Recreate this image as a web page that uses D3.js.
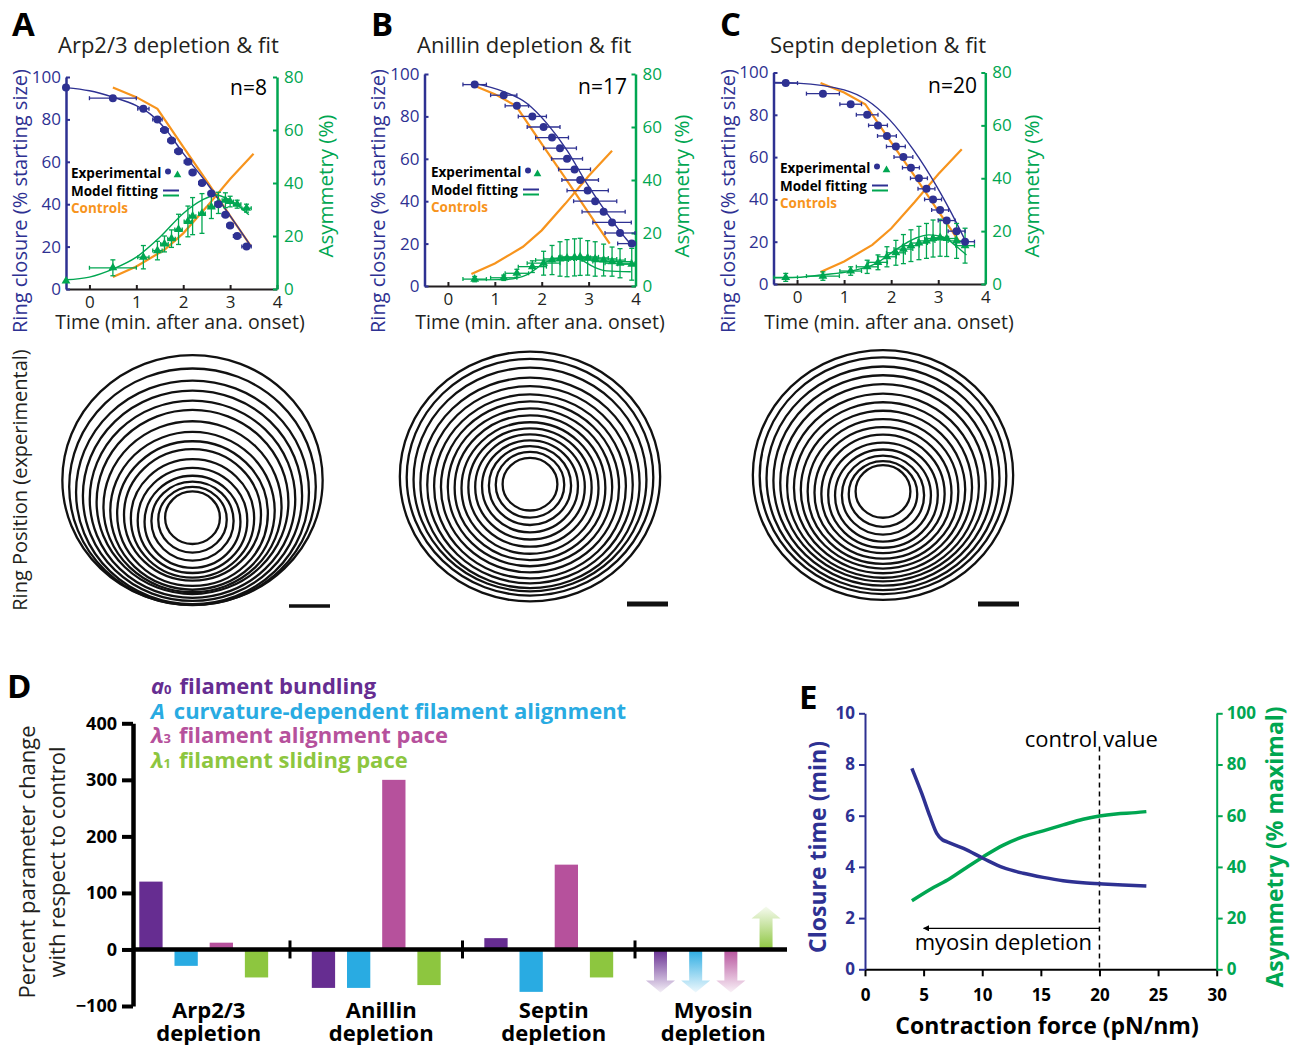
<!DOCTYPE html>
<html>
<head>
<meta charset="utf-8">
<script src="https://cdn.jsdelivr.net/npm/d3@7"></script>
<style>
  body { margin: 0; background: #fff; }
  svg { font-family: "Open Sans", "Noto Sans", sans-serif; }
</style>
</head>
<body>
<svg id="fig" width="1297" height="1045"></svg>
<script>
const FONT = "'Open Sans', 'Noto Sans', sans-serif";
const BLUE = "#2e3192";
const GREEN = "#00a651";
const ORANGE = "#f7941d";
const INK = "#231f20";

// ---- panels A-C : ring closure + asymmetry vs time ----
const timeTicks = [0, 1, 2, 3, 4];
const closureTicks = [0, 20, 40, 60, 80, 100];
const asymTicks = [0, 20, 40, 60, 80];

// controls (same in A, B, C)
const controlTime = [0.5, 1, 1.45, 2, 2.5, 3, 3.45];
const controlClosure = [95, 90.5, 85, 67, 51, 34.5, 20];
const controlAsymTime = [0.5, 1, 1.6, 2, 2.5, 3, 3.5];
const controlAsym = [4.5, 8.5, 14.8, 21, 31, 41.5, 51];

// A: Arp2/3 depletion
const arpTime = [-0.5, 0.5, 1.15, 1.45, 1.6, 1.75, 1.9, 2.1, 2.2, 2.4, 2.6, 2.75, 2.9, 3.0, 3.15, 3.35];
const arpTimeErr = [0, 0.5, 0.12, 0.1, 0.08, 0.08, 0.08, 0.08, 0.07, 0.07, 0.07, 0.07, 0.07, 0.07, 0.08, 0.1];
const arpClosure = [95, 90, 85, 80, 75, 70, 65, 60, 55, 50, 45, 40, 35, 30, 25, 20];
const arpAsym = [3, 8, 12, 14.5, 17, 19, 22.5, 25.5, 27.5, 28.5, 31, 32.5, 33.5, 33, 32, 30.5];
const arpAsymErr = [0, 3, 4.4, 3.5, 3, 3.3, 5.7, 5.8, 7, 7.5, 4.4, 4, 2.8, 2, 1.5, 1.5];
const arpFitClosure = [[-0.5, 95], [0, 93.5], [0.5, 90.5], [1, 86.5], [1.3, 82.5], [1.6, 76], [2, 64], [2.5, 50], [3, 34.5], [3.45, 20]];
const arpFitAsym = [[-0.5, 3.5], [0, 4.5], [0.5, 7.5], [1, 12], [1.5, 19.5], [2, 28.5], [2.4, 33.5], [2.7, 35.5], [3, 33.5], [3.4, 28]];

// B: Anillin depletion
const anlTime = [0.57, 1.19, 1.47, 1.8, 2.04, 2.22, 2.39, 2.54, 2.7, 2.82, 2.98, 3.14, 3.32, 3.5, 3.67, 3.92];
const anlTimeErr = [0.25, 0.28, 0.25, 0.3, 0.35, 0.35, 0.35, 0.33, 0.34, 0.39, 0.44, 0.46, 0.46, 0.41, 0.32, 0.3];
const anlClosure = [95, 90, 85, 80, 75, 70, 65, 60, 55, 50, 45, 40, 35, 30, 25, 20];
const anlAsym = [2.6, 3.1, 4.8, 7.3, 8.6, 9.8, 10.2, 10.5, 10.8, 11, 10.6, 10.2, 9.8, 9.2, 8.6, 8.2];
const anlAsymErr = [1, 1, 1.5, 2.2, 4.5, 5.5, 6.5, 7, 7, 7, 6.5, 6.5, 6, 5.5, 5.5, 6];
const anlFitClosure = [[0.57, 95.6], [1.19, 91.7], [1.68, 86.2], [2.11, 76.7], [2.54, 64], [2.96, 48.4], [3.39, 34.3], [3.82, 21.7], [3.95, 18.5]];
const anlFitAsym = [[0.55, 2.3], [1.25, 2.5], [1.68, 4.2], [2.11, 9.2], [2.54, 10.8], [2.82, 10], [3.1, 7.3], [3.39, 5.7], [3.9, 5.4]];

// C: Septin depletion
const sepTime = [-0.24, 0.55, 1.14, 1.49, 1.72, 1.91, 2.1, 2.26, 2.42, 2.59, 2.75, 2.89, 3.04, 3.18, 3.39, 3.57];
const sepTimeErr = [0.25, 0.35, 0.23, 0.23, 0.2, 0.2, 0.2, 0.2, 0.18, 0.18, 0.18, 0.18, 0.18, 0.18, 0.18, 0.2];
const sepClosure = [95, 90, 85, 80, 75, 70, 65, 60, 55, 50, 45, 40, 35, 30, 25, 20];
const sepAsym = [2.5, 3, 4.9, 6.5, 8.2, 10.3, 11.8, 13.2, 14.5, 15.5, 16.3, 17.2, 17.5, 17.2, 16.3, 14.5];
const sepAsymErr = [1.5, 1.6, 1.6, 2.5, 2.8, 3.8, 4.7, 5.5, 6, 6.3, 6.6, 7, 7, 6.8, 6.6, 6.6];
const sepFitClosure = [[-0.5, 95.3], [0, 95], [1, 91.8], [1.48, 87], [1.97, 77.6], [2.47, 63.5], [2.97, 46], [3.39, 28.8], [3.6, 19.4]];
const sepFitAsym = [[-0.5, 2.3], [0, 2.5], [0.55, 3.5], [1.12, 4.8], [1.69, 7.9], [2.1, 13], [2.53, 17.4], [2.8, 18.6], [3.1, 17.8], [3.39, 14.2], [3.6, 11]];

// ---- panel D : parameter change ----
const groupNames = ["Arp2/3", "Anillin", "Septin", "Myosin"];
const paramKeys = ["a0", "A", "l3", "l1"];
const paramSymbols = ["a", "A", "λ", "λ"];
const paramSubs = ["0", "", "3", "1"];
const paramLabels = ["filament bundling", "curvature-dependent filament alignment", "filament alignment pace", "filament sliding pace"];
const paramColors = ["#662d91", "#29abe2", "#b6519c", "#8dc63f"];
const bundlingChange = [120, -68, 20];
const curvatureChange = [-29, -68, -75];
const alignPaceChange = [12, 300, 150];
const slidingPaceChange = [-49.5, -63, -49.5];
const myosinArrow = [-76, -76, -76, 76]; // direction only
const changeTicks = [-100, 0, 100, 200, 300, 400];

// ---- panel E : contraction force ----
const forceValues = [4, 4.84, 5.55, 6.12, 6.6, 7, 8.4, 10.1, 11.8, 13.5, 15.2, 16.9, 18.6, 20.3, 22, 24];
const forceClosure = [7.85, 6.87, 5.96, 5.31, 5.06, 4.98, 4.72, 4.33, 3.97, 3.75, 3.59, 3.46, 3.38, 3.33, 3.29, 3.25];
const forceAsymX = [4, 5.55, 7.25, 8.67, 10.1, 11.8, 13.5, 15.2, 16.9, 18.6, 20, 21.4, 23.1, 24];
const forceAsym = [26.8, 31.2, 35.5, 39.8, 44, 48.5, 51.8, 54.1, 56.4, 58.6, 59.9, 60.7, 61.2, 61.6];
const forceTicks = [0, 5, 10, 15, 20, 25, 30];
const closureTimeTicks = [0, 2, 4, 6, 8, 10];
const asymMaxTicks = [0, 20, 40, 60, 80, 100];

const svg = d3.select("#fig");

function styleAxis(sel, color, width, size, weight) {
  sel.attr("font-family", FONT).attr("font-size", size);
  sel.select(".domain").attr("stroke", color).attr("stroke-width", width);
  sel.selectAll(".tick line").attr("stroke", color).attr("stroke-width", Math.min(width, 2));
  sel.selectAll(".tick text").attr("fill", color).attr("font-weight", weight || "normal");
}

function rotLabel(g, cx, cy, str, size, color, weight) {
  g.append("text")
    .attr("transform", `translate(${cx},${cy}) rotate(-90)`)
    .attr("text-anchor", "middle")
    .attr("dy", "0.35em")
    .attr("font-size", size)
    .attr("font-weight", weight || "normal")
    .attr("fill", color)
    .text(str);
}

const timePanels = [
  {
    letter: "A", letterX: 12, title: "Arp2/3 depletion & fit", titleX: 58, n: "n=8", nX: 267, nY: 95,
    xr: [66, 277], yr: [289, 77], labelL: 20, labelR: 326, xLabel: 180, legend: [71, 178],
    time: arpTime, timeErr: arpTimeErr, closure: arpClosure, asym: arpAsym, asymErr: arpAsymErr,
    fitClosure: arpFitClosure, fitAsym: arpFitAsym,
    ring: { cx: 192.5, cy: 480, bar: [289, 330, 606], barW: 3.5 },
  },
  {
    letter: "B", letterX: 371, title: "Anillin depletion & fit", titleX: 417, n: "n=17", nX: 627, nY: 94,
    xr: [424.5, 635.5], yr: [286, 74], labelL: 378, labelR: 682, xLabel: 540, legend: [431, 177],
    time: anlTime, timeErr: anlTimeErr, closure: anlClosure, asym: anlAsym, asymErr: anlAsymErr,
    fitClosure: anlFitClosure, fitAsym: anlFitAsym,
    ring: { cx: 530, cy: 476.5, bar: [627, 668, 604], barW: 5 },
  },
  {
    letter: "C", letterX: 720, title: "Septin depletion & fit", titleX: 770, n: "n=20", nX: 977, nY: 93,
    xr: [773.5, 985.3], yr: [284, 72.5], labelL: 728, labelR: 1032, xLabel: 889, legend: [780, 173],
    time: sepTime, timeErr: sepTimeErr, closure: sepClosure, asym: sepAsym, asymErr: sepAsymErr,
    fitClosure: sepFitClosure, fitAsym: sepFitAsym,
    ring: { cx: 883, cy: 475, bar: [978, 1019, 604], barW: 5 },
  },
];

const ringScale = d3.scaleLinear().domain([0, 100]).range([0, 137]);

timePanels.forEach((p) => {
  const g = svg.append("g");
  const x = d3.scaleLinear().domain([-0.5, 4]).range(p.xr).clamp(true);
  const yL = d3.scaleLinear().domain([0, 100]).range(p.yr);
  const yR = d3.scaleLinear().domain([0, 80]).range(p.yr);

  // headings
  g.append("text").attr("x", p.letterX).attr("y", 36).attr("font-size", 33)
    .attr("font-weight", "bold").attr("fill", "#000").text(p.letter);
  g.append("text").attr("x", p.titleX).attr("y", 53).attr("font-size", 22)
    .attr("fill", INK).text(p.title);
  g.append("text").attr("x", p.nX).attr("y", p.nY).attr("font-size", 21)
    .attr("text-anchor", "end").attr("fill", "#000").text(p.n);

  // axes
  g.append("g").attr("transform", `translate(0,${p.yr[0]})`)
    .call(d3.axisBottom(x).tickValues(timeTicks).tickFormat(d3.format("d"))
      .tickSizeInner(-4).tickSizeOuter(0).tickPadding(7))
    .call((s) => styleAxis(s, INK, 2, 17));
  g.append("g").attr("transform", `translate(${p.xr[0]},0)`)
    .call(d3.axisLeft(yL).tickValues(closureTicks).tickSizeInner(-4).tickSizeOuter(0).tickPadding(5))
    .call((s) => styleAxis(s, BLUE, 2.5, 17));
  g.append("g").attr("transform", `translate(${p.xr[1]},0)`)
    .call(d3.axisRight(yR).tickValues(asymTicks).tickSizeInner(-4).tickSizeOuter(0).tickPadding(7))
    .call((s) => styleAxis(s, GREEN, 2.5, 17));

  rotLabel(g, p.labelL, 201, "Ring closure (% starting size)", 20, BLUE);
  rotLabel(g, p.labelR, 186, "Asymmetry (%)", 20.5, GREEN);
  g.append("text").attr("x", p.xLabel).attr("y", 329).attr("text-anchor", "middle")
    .attr("font-size", 19.5).attr("fill", INK).text("Time (min. after ana. onset)");

  const lineL = d3.line().x((d) => x(d[0])).y((d) => yL(d[1]));
  const lineR = d3.line().x((d) => x(d[0])).y((d) => yR(d[1]));
  const smoothL = d3.line().curve(d3.curveMonotoneX).x((d) => x(d[0])).y((d) => yL(d[1]));
  const smoothR = d3.line().curve(d3.curveMonotoneX).x((d) => x(d[0])).y((d) => yR(d[1]));

  // controls
  g.append("path").attr("d", lineL(d3.zip(controlTime, controlClosure)))
    .attr("fill", "none").attr("stroke", ORANGE).attr("stroke-width", 2.2);
  g.append("path").attr("d", lineR(d3.zip(controlAsymTime, controlAsym)))
    .attr("fill", "none").attr("stroke", ORANGE).attr("stroke-width", 2.2);

  // model fits
  g.append("path").attr("d", smoothL(p.fitClosure))
    .attr("fill", "none").attr("stroke", BLUE).attr("stroke-width", 1.4);
  g.append("path").attr("d", smoothR(p.fitAsym))
    .attr("fill", "none").attr("stroke", GREEN).attr("stroke-width", 1.4);

  const pts = p.time.map((t, i) => ({
    t, te: p.timeErr[i], c: p.closure[i], a: p.asym[i], ae: p.asymErr[i],
  }));

  // asymmetry error bars
  const eg = g.append("g").attr("stroke", GREEN).attr("stroke-width", 1.3);
  pts.forEach((d) => {
    if (d.te > 0) {
      eg.append("line").attr("x1", x(d.t - d.te)).attr("x2", x(d.t + d.te))
        .attr("y1", yR(d.a)).attr("y2", yR(d.a));
      [d.t - d.te, d.t + d.te].forEach((e) => eg.append("line")
        .attr("x1", x(e)).attr("x2", x(e)).attr("y1", yR(d.a) - 2).attr("y2", yR(d.a) + 2));
    }
    if (d.ae > 0) {
      eg.append("line").attr("x1", x(d.t)).attr("x2", x(d.t))
        .attr("y1", yR(d.a - d.ae)).attr("y2", yR(d.a + d.ae));
      [d.a - d.ae, d.a + d.ae].forEach((e) => eg.append("line")
        .attr("x1", x(d.t) - 2.5).attr("x2", x(d.t) + 2.5).attr("y1", yR(e)).attr("y2", yR(e)));
    }
  });

  // closure error bars
  const bg = g.append("g").attr("stroke", BLUE).attr("stroke-width", 1.3);
  pts.forEach((d) => {
    if (d.te > 0) {
      bg.append("line").attr("x1", x(d.t - d.te)).attr("x2", x(d.t + d.te))
        .attr("y1", yL(d.c)).attr("y2", yL(d.c));
      [d.t - d.te, d.t + d.te].forEach((e) => bg.append("line")
        .attr("x1", x(e)).attr("x2", x(e)).attr("y1", yL(d.c) - 2).attr("y2", yL(d.c) + 2));
    }
  });

  const tri = d3.symbol().type(d3.symbolTriangle).size(34);
  g.append("g").selectAll("path").data(pts).join("path")
    .attr("d", tri).attr("transform", (d) => `translate(${x(d.t)},${yR(d.a)})`)
    .attr("fill", GREEN);
  g.append("g").selectAll("circle").data(pts).join("circle")
    .attr("cx", (d) => x(d.t)).attr("cy", (d) => yL(d.c)).attr("r", 4)
    .attr("fill", BLUE);

  // legend
  const [lx, ly] = p.legend;
  const lg = g.append("g").attr("font-size", 13.5).attr("font-weight", "bold");
  lg.append("text").attr("x", lx).attr("y", ly).attr("fill", "#000").text("Experimental");
  lg.append("circle").attr("cx", lx + 97).attr("cy", ly - 6.5).attr("r", 3).attr("fill", BLUE);
  lg.append("path").attr("d", d3.symbol().type(d3.symbolTriangle).size(26))
    .attr("transform", `translate(${lx + 106.5},${ly - 3})`).attr("fill", GREEN);
  lg.append("text").attr("x", lx).attr("y", ly + 18).attr("fill", "#000").text("Model fitting");
  lg.append("line").attr("x1", lx + 92).attr("x2", lx + 108).attr("y1", ly + 12.5).attr("y2", ly + 12.5)
    .attr("stroke", BLUE).attr("stroke-width", 2);
  lg.append("line").attr("x1", lx + 92).attr("x2", lx + 108).attr("y1", ly + 17.5).attr("y2", ly + 17.5)
    .attr("stroke", GREEN).attr("stroke-width", 2);
  lg.append("text").attr("x", lx).attr("y", ly + 35).attr("fill", ORANGE).text("Controls");

  // ring positions drawn from the same data: radius from closure, downward shift from asymmetry
  const rg = g.append("g").attr("fill", "none").attr("stroke", "#111").attr("stroke-width", 2.3);
  rg.selectAll("ellipse").data(pts).join("ellipse")
    .attr("cx", p.ring.cx)
    .attr("cy", (d) => p.ring.cy + ringScale(d.a - pts[0].a))
    .attr("rx", (d) => ringScale(d.c))
    .attr("ry", (d) => ringScale(d.c) * 0.96);
  g.append("line").attr("x1", p.ring.bar[0]).attr("x2", p.ring.bar[1])
    .attr("y1", p.ring.bar[2]).attr("y2", p.ring.bar[2])
    .attr("stroke", "#111").attr("stroke-width", p.ring.barW);
});

rotLabel(svg, 20, 480, "Ring Position (experimental)", 20, INK);

// ---------------- panel D ----------------
(function () {
  const g = svg.append("g");
  const yD = d3.scaleLinear().domain([-100, 400]).range([1006, 723.3]);
  const xG = d3.scaleBand().domain(groupNames).range([133, 792]).paddingInner(0.18).paddingOuter(0);
  const xP = d3.scaleBand().domain(paramKeys).range([0, xG.bandwidth()]).paddingInner(0.338).paddingOuter(0.179);
  const series = [bundlingChange, curvatureChange, alignPaceChange, slidingPaceChange];

  g.append("text").attr("x", 7).attr("y", 698).attr("font-size", 33)
    .attr("font-weight", "bold").attr("fill", "#000").text("D");

  // legend
  paramKeys.forEach((k, i) => {
    const t = g.append("text").attr("x", 151).attr("y", 694 + i * 24.6)
      .attr("font-size", 22).attr("font-weight", "bold").attr("fill", paramColors[i]);
    t.append("tspan").attr("font-style", "italic").text(paramSymbols[i]);
    if (paramSubs[i]) t.append("tspan").attr("font-size", 13).text(paramSubs[i]);
    t.append("tspan").attr("dx", paramSubs[i] ? 8 : 9).text(paramLabels[i]);
  });

  // bars
  const rows = [];
  groupNames.slice(0, 3).forEach((gn, gi) => {
    paramKeys.forEach((k, pi) => rows.push({ group: gn, key: k, v: series[pi][gi], color: paramColors[pi] }));
  });
  g.append("g").selectAll("rect").data(rows).join("rect")
    .attr("x", (d) => xG(d.group) + xP(d.key))
    .attr("width", xP.bandwidth())
    .attr("y", (d) => yD(Math.max(0, d.v)))
    .attr("height", (d) => Math.abs(yD(d.v) - yD(0)))
    .attr("fill", (d) => d.color);

  // myosin arrows (direction of change)
  const defs = svg.append("defs");
  paramKeys.forEach((k, i) => {
    const up = myosinArrow[i] > 0;
    const grad = defs.append("linearGradient").attr("id", `grad-${k}`)
      .attr("x1", 0).attr("x2", 0).attr("y1", up ? 1 : 0).attr("y2", up ? 0 : 1);
    grad.append("stop").attr("offset", "0%").attr("stop-color", paramColors[i]).attr("stop-opacity", 1);
    grad.append("stop").attr("offset", "100%").attr("stop-color", paramColors[i]).attr("stop-opacity", 0.08);
    const cx = xG("Myosin") + xP(k) + xP.bandwidth() / 2 - 8;
    const y0 = yD(0);
    const y1 = yD(myosinArrow[i]);
    const dir = up ? -1 : 1;
    const yh = y1 - dir * 12;
    const sw = 6.5, hw = 14.5;
    g.append("path")
      .attr("d", `M${cx - sw},${y0} L${cx + sw},${y0} L${cx + sw},${yh} L${cx + hw},${yh} L${cx},${y1} L${cx - hw},${yh} L${cx - sw},${yh} Z`)
      .attr("fill", `url(#grad-${k})`);
  });

  // axes
  g.append("g").attr("transform", "translate(133,0)")
    .call(d3.axisLeft(yD).tickValues(changeTicks).tickSizeInner(11).tickSizeOuter(0).tickPadding(5))
    .call((s) => styleAxis(s, "#000", 4.5, 18, "bold"))
    .call((s) => s.selectAll(".tick line").attr("stroke-width", 4));
  g.append("line").attr("x1", 133).attr("x2", 787).attr("y1", yD(0)).attr("y2", yD(0))
    .attr("stroke", "#000").attr("stroke-width", 4.5);
  groupNames.slice(1).forEach((gn) => {
    const sx = xG(gn) - (xG.step() - xG.bandwidth()) / 2;
    g.append("line").attr("x1", sx).attr("x2", sx).attr("y1", yD(0) - 9).attr("y2", yD(0) + 9)
      .attr("stroke", "#000").attr("stroke-width", 3);
  });

  groupNames.forEach((gn, i) => {
    const cx = xG(gn) + xG.bandwidth() / 2 + (i === 3 ? -8 : 5);
    const t = g.append("text").attr("text-anchor", "middle").attr("font-size", 22)
      .attr("font-weight", "bold").attr("fill", "#000");
    t.append("tspan").attr("x", cx).attr("y", 1018).text(gn);
    t.append("tspan").attr("x", cx).attr("y", 1041).text("depletion");
  });

  const lab = g.append("text").attr("transform", "translate(27,862) rotate(-90)")
    .attr("text-anchor", "middle").attr("font-size", 22).attr("fill", INK);
  lab.append("tspan").attr("x", 0).attr("dy", "0.35em").text("Percent parameter change");
  lab.append("tspan").attr("x", 0).attr("dy", "1.36em").text("with respect to control");
})();

// ---------------- panel E ----------------
(function () {
  const g = svg.append("g");
  const xE = d3.scaleLinear().domain([0, 30]).range([865, 1216.7]);
  const yL = d3.scaleLinear().domain([0, 10]).range([969.3, 713.3]);
  const yR = d3.scaleLinear().domain([0, 100]).range([969.3, 713.3]);

  g.append("text").attr("x", 799).attr("y", 709).attr("font-size", 33)
    .attr("font-weight", "bold").attr("fill", "#000").text("E");

  g.append("g").attr("transform", "translate(0,969.3)")
    .call(d3.axisBottom(xE).tickValues(forceTicks).tickSizeInner(7).tickSizeOuter(0).tickPadding(13))
    .call((s) => styleAxis(s, "#000", 2, 17, "bold"));
  g.append("g").attr("transform", "translate(865,0)")
    .call(d3.axisLeft(yL).tickValues(closureTimeTicks).tickSizeInner(6).tickSizeOuter(0).tickPadding(4))
    .call((s) => styleAxis(s, BLUE, 2, 17, "bold"));
  g.append("g").attr("transform", "translate(1216.7,0)")
    .call(d3.axisRight(yR).tickValues(asymMaxTicks).tickSizeInner(6).tickSizeOuter(0).tickPadding(4))
    .call((s) => styleAxis(s, GREEN, 2, 17, "bold"));

  rotLabel(g, 818, 847, "Closure time (min)", 23, BLUE, "bold");
  rotLabel(g, 1275, 847, "Asymmetry (% maximal)", 23, GREEN, "bold");
  g.append("text").attr("x", 1047).attr("y", 1034).attr("text-anchor", "middle")
    .attr("font-size", 23).attr("font-weight", "bold").attr("fill", "#000")
    .text("Contraction force (pN/nm)");

  // control value marker
  g.append("line").attr("x1", xE(20)).attr("x2", xE(20)).attr("y1", yL(8.7)).attr("y2", yL(0))
    .attr("stroke", "#000").attr("stroke-width", 1.5).attr("stroke-dasharray", "5,4");
  g.append("text").attr("x", xE(19.3)).attr("y", yL(8.7)).attr("text-anchor", "middle")
    .attr("font-size", 22).attr("fill", "#000").text("control value");

  const defs = svg.append("defs");
  defs.append("marker").attr("id", "arrowE").attr("viewBox", "0 0 10 10")
    .attr("refX", 9).attr("refY", 5).attr("markerWidth", 9).attr("markerHeight", 6)
    .attr("markerUnits", "userSpaceOnUse").attr("orient", "auto")
    .append("path").attr("d", "M0,0 L10,5 L0,10 Z").attr("fill", "#000");
  g.append("line").attr("x1", xE(20)).attr("x2", xE(5)).attr("y1", yL(1.6)).attr("y2", yL(1.6))
    .attr("stroke", "#000").attr("stroke-width", 1.3).attr("marker-end", "url(#arrowE)");
  g.append("text").attr("x", xE(11.8)).attr("y", yL(0.76)).attr("text-anchor", "middle")
    .attr("font-size", 22).attr("fill", "#000").text("myosin depletion");

  const lineL = d3.line().curve(d3.curveMonotoneX).x((d) => xE(d[0])).y((d) => yL(d[1]));
  const lineR = d3.line().curve(d3.curveMonotoneX).x((d) => xE(d[0])).y((d) => yR(d[1]));
  g.append("path").attr("d", lineR(d3.zip(forceAsymX, forceAsym)))
    .attr("fill", "none").attr("stroke", GREEN).attr("stroke-width", 3.5);
  g.append("path").attr("d", lineL(d3.zip(forceValues, forceClosure)))
    .attr("fill", "none").attr("stroke", BLUE).attr("stroke-width", 3.5);
})();
</script>
</body>
</html>
